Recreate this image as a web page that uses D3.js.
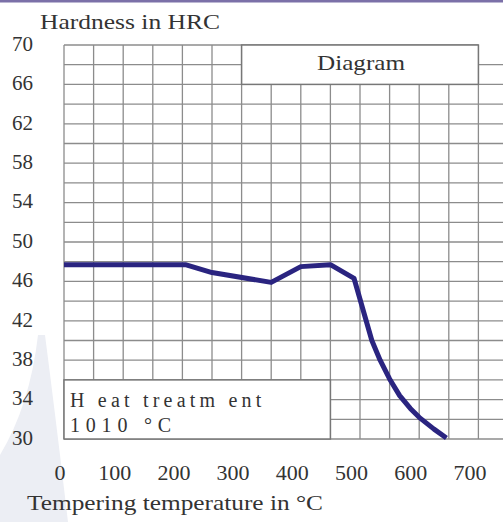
<!DOCTYPE html>
<html><head><meta charset="utf-8">
<script src="https://cdn.jsdelivr.net/npm/d3@7"></script>
<style>html,body{margin:0;padding:0;background:#fff;}svg{display:block;}</style>
</head><body>
<svg id="c" width="503" height="522"></svg>
<script>
const temps = [0, 205, 250, 350, 400, 450, 490, 520, 534, 550, 567, 585, 600, 625, 646];
const hrc   = [47.7, 47.7, 46.9, 45.9, 47.5, 47.7, 46.3, 40.0, 38.0, 36.1, 34.4, 33.1, 32.2, 31.0, 30.1];
const xTicks = [0, 100, 200, 300, 400, 500, 600, 700];
const yTicks = [70, 66, 62, 58, 54, 50, 46, 42, 38, 34, 30];
const yTitle = "Hardness in HRC";
const xTitle = "Tempering temperature in °C";
const boxTitle = "Diagram";
const noteLines = ["H eat treatm ent", "1010 °C"];

const svg = d3.select("#c");
const x = d3.scaleLinear().domain([0, 700]).range([64, 478.4]);
const y = d3.scaleLinear().domain([30, 70]).range([439, 45]);
const font = "'Liberation Serif', 'Times New Roman', serif";
const txt = "#333";

svg.append("rect").attr("x",0).attr("y",0).attr("width",503).attr("height",2.5).attr("fill","#7b70a8");
svg.append("path").attr("d","M38,335 Q30,405 0,455 L0,522 L68,522 Q56,420 45,335 Z").attr("fill","#eceef4");

const grid = svg.append("g").attr("stroke","#8c8c8c").attr("stroke-width",1.3);
d3.range(30, 71, 2).forEach(v => {
  grid.append("line").attr("x1", x(0)).attr("x2", v === 70 ? x(700) : 503)
    .attr("y1", y(v)).attr("y2", y(v));
});
d3.range(0, 751, 50).forEach(v => {
  if (x(v) > 503) return;
  grid.append("line").attr("x1", x(v)).attr("x2", x(v)).attr("y1", y(70)).attr("y2", y(30));
});

svg.append("rect").attr("x", x(300)).attr("y", y(70)).attr("width", x(700)-x(300)).attr("height", y(66)-y(70))
  .attr("fill","#fff").attr("stroke","#777").attr("stroke-width",1.5);
svg.append("text").attr("x", 317).attr("y", 70)
  .attr("font-family", font).attr("font-size", 21).attr("textLength", 88).attr("lengthAdjust","spacingAndGlyphs")
  .attr("fill", txt).text(boxTitle);

svg.append("rect").attr("x", x(0)).attr("y", y(36)).attr("width", x(450)-x(0)).attr("height", y(30)-y(36))
  .attr("fill","#fff").attr("stroke","#777").attr("stroke-width",1.5);
svg.append("text").attr("x", 70).attr("y", 407).attr("font-family", font).attr("font-size", 20)
  .attr("letter-spacing", 4.2).attr("fill", txt).text(noteLines[0]);
svg.append("text").attr("x", 70).attr("y", 432).attr("font-family", font).attr("font-size", 20)
  .attr("letter-spacing", 5.8).attr("fill", txt).text(noteLines[1]);

const line = d3.line().x(d => x(d[0])).y(d => y(d[1]));
svg.append("path").datum(temps.map((t,i)=>[t,hrc[i]])).attr("d", line)
  .attr("fill","none").attr("stroke","#2a2480").attr("stroke-width",5).attr("stroke-linejoin","round");

svg.append("g").selectAll("text").data(yTicks).join("text")
  .attr("x", 12).attr("y", d => y(d) - 1.5).attr("dy","0.35em")
  .attr("font-family", font).attr("font-size", 21).attr("fill", txt).text(d => d);
svg.append("g").selectAll("text").data(xTicks).join("text")
  .attr("x", d => d === 0 ? x(d) - 4 : x(d) - 8.5).attr("y", 480).attr("text-anchor","middle")
  .attr("font-family", font).attr("font-size", 22).attr("fill", txt).text(d => d);

svg.append("text").attr("x", 40).attr("y", 29).attr("font-family", font).attr("font-size", 21)
  .attr("textLength", 180).attr("lengthAdjust","spacingAndGlyphs").attr("fill", txt).text(yTitle);
svg.append("text").attr("x", 27).attr("y", 510).attr("font-family", font).attr("font-size", 21)
  .attr("textLength", 296).attr("lengthAdjust","spacingAndGlyphs").attr("fill", txt).text(xTitle);
</script>
</body></html>
